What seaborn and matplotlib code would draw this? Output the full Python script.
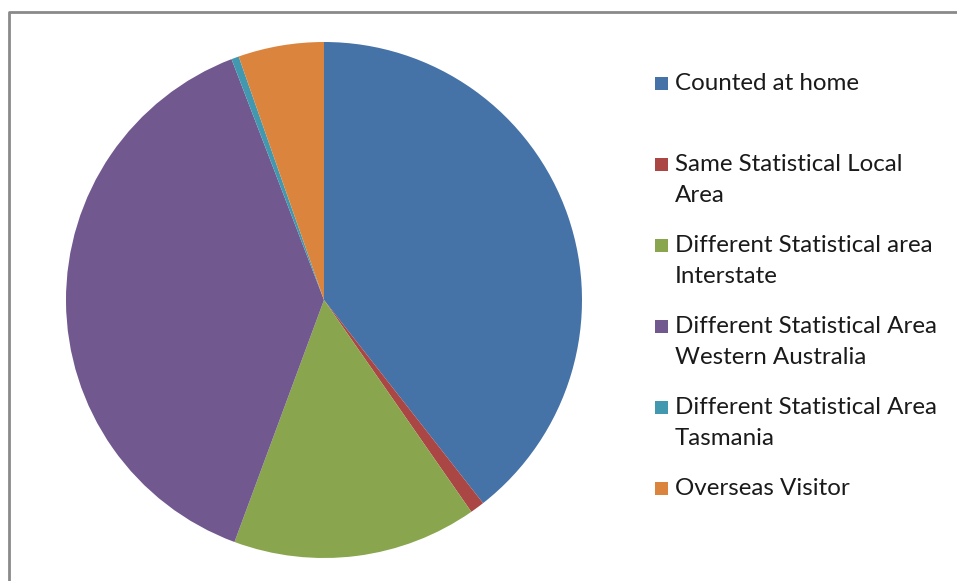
import matplotlib
matplotlib.use("Agg")
import matplotlib.pyplot as plt
from matplotlib.patches import Rectangle
from matplotlib.lines import Line2D
import seaborn as sns

categories = [
    "Counted at home",
    "Same Statistical Local\nArea",
    "Different Statistical area\nInterstate",
    "Different Statistical Area\nWestern Australia",
    "Different Statistical Area\nTasmania",
    "Overseas Visitor",
]
values = [39.4, 0.9, 15.3, 38.5, 0.47, 5.36]
colors = ["#4572A7", "#AA4643", "#89A54E", "#71588F", "#4198AF", "#DB843D"]

sns.set_theme(style="white")
plt.rcParams["font.family"] = ["Lato", "DejaVu Sans"]

W, H = 957, 581
fig = plt.figure(figsize=(W / 100, H / 100), dpi=100)
fig.patch.set_facecolor("white")

def fx(x):
    return x / W

def fy(y):
    return 1 - y / H

# pie area: center (324,300), radius 258 px
cx, cy, r = 324, 300, 258
ax = fig.add_axes([fx(cx - r), fy(cy + r), 2 * r / W, 2 * r / H])
palette = sns.color_palette(colors)
ax.pie(values, colors=palette, startangle=90, counterclock=False,
       radius=1, frame=False, wedgeprops=dict(linewidth=0))
ax.set_xlim(-1, 1)
ax.set_ylim(-1, 1)
ax.axis("off")

# border of chart area
fig.add_artist(Line2D([fx(9), fx(9), fx(W + 5)], [fy(H + 5), fy(12), fy(12)],
                      transform=fig.transFigure, color="#8a8a8a", linewidth=2))

# legend
baseline0 = 90
step = 81
line_gap = 31
for i, (lab, col) in enumerate(zip(categories, palette)):
    b = baseline0 + i * step
    fig.add_artist(Rectangle((fx(655), fy(b)), 13 / W, 13 / H,
                             transform=fig.transFigure, facecolor=col,
                             edgecolor="none"))
    for j, line in enumerate(lab.split("\n")):
        fig.text(fx(675), fy(b + j * line_gap), line, fontsize=17.4,
                 color="#1a1a1a", va="baseline", ha="left")

fig.savefig("out.png", dpi=100)
